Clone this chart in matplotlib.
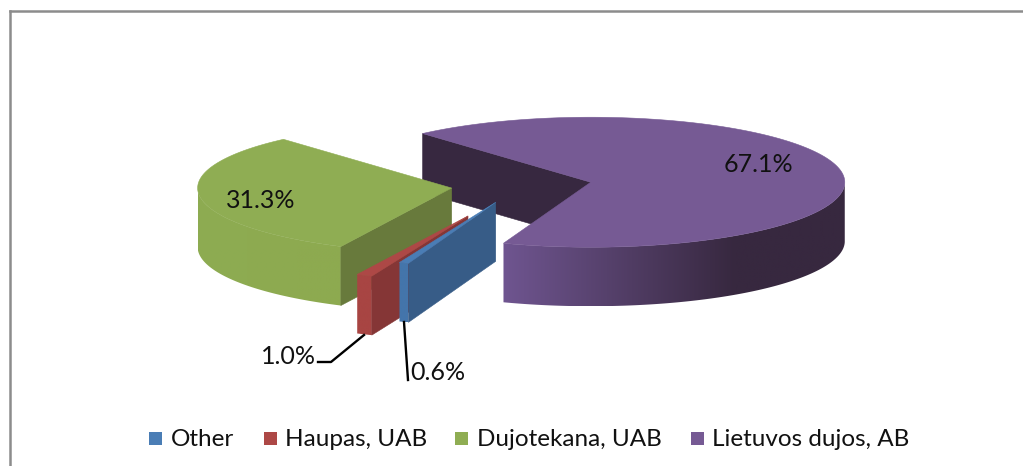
import numpy as np
import matplotlib
matplotlib.use("Agg")
import matplotlib.pyplot as plt
from matplotlib.patches import Polygon, Rectangle
from matplotlib.colors import to_rgb

# ---- data ----
categories = ["Other", "Haupas, UAB", "Dujotekana, UAB", "Lietuvos dujos, AB"]
shares = [0.6, 1.0, 31.3, 67.1]
share_labels = ["0.6%", "1.0%", "31.3%", "67.1%"]

# ---- style ----
top_col = ["#4A7DB5", "#AD4846", "#8FAD53", "#765A94"]
side_light = ["#4475AB", "#A84543", "#8DAC52", "#6F5590"]
side_dark = ["#4475AB", "#A84543", "#8DAA50", "#37283F"]
cut_col = ["#375C87", "#853636", "#687A3C", "#372840"]
explode = [70.0, 130.0, 70.0, 71.0]

W, H = 1023, 466
CX, CY = 521.0, 185.6
A, B, D = 254.0, 65.0, 59.0
START = -110.1  # param angle where the first slice starts, running clockwise
FONT = "Lato"

fig = plt.figure(figsize=(W / 100, H / 100), dpi=100)
ax = fig.add_axes([0, 0, 1, 1])
ax.axis("off")

# frame
for xs, ys in (([9.5, 9.5], [H, 11]), ([9.5, W], [11, 11])):
    ax.plot(xs, ys, color="#8C8C8C", lw=1.8, solid_capstyle="projecting", zorder=1)

def pt(c, t, drop=0.0):
    t = np.radians(t)
    return np.column_stack([c[0] + A * np.cos(t), c[1] - B * np.sin(t) + drop])

fr = np.array(shares) / sum(shares)
edges = START - np.concatenate([[0], np.cumsum(fr)]) * 360.0
geo = []
for i in range(4):
    t0, t1 = edges[i], edges[i + 1]
    mid = np.radians((t0 + t1) / 2)
    e = explode[i]
    c = (CX + e * np.cos(mid), CY - e * B / A * np.sin(mid))
    geo.append((c, t0, t1))

def face(points, col, z):
    ax.add_patch(Polygon(points, closed=True, fc=col, ec=col, lw=0.4, zorder=z))

def outer_side(i, z):
    c, t0, t1 = geo[i]
    lo, hi = sorted((t0, t1))
    ts = np.linspace(lo, hi, 400)
    ts = ts[np.sin(np.radians(ts)) <= 0.001]
    p = pt(c, ts)
    outline = np.vstack([p, p[::-1] + [0, D]])
    x0, x1 = p[:, 0].min(), p[:, 0].max()
    l, d = np.array(to_rgb(side_light[i])), np.array(to_rgb(side_dark[i]))
    f = np.clip(np.linspace(0, 1, 256) / 0.68, 0, 1)[None, :, None]
    img = l[None, None, :] + (d - l)[None, None, :] * f
    y0, y1 = outline[:, 1].min(), outline[:, 1].max()
    im = ax.imshow(img, extent=(x0, x1, y1, y0), aspect="auto", zorder=z, interpolation="bilinear")
    clip = Polygon(outline, closed=True, transform=ax.transData)
    im.set_clip_path(clip)

def top(i, z):
    c, t0, t1 = geo[i]
    ts = np.linspace(t0, t1, 200)
    face(np.vstack([[c], pt(c, ts)]), top_col[i], z)

def cut(i, t, z):
    c = geo[i][0]
    p = pt(c, np.array([t]))[0]
    face([c, p, p + [0, D], np.array(c) + [0, D]], cut_col[i], z)

# purple (back cut face visible)
cut(3, geo[3][1], 2)
outer_side(3, 3)
top(3, 4)
# green
outer_side(2, 5)
cut(2, geo[2][1], 6)
top(2, 7)
# red
outer_side(1, 8)
cut(1, geo[1][1], 9)
top(1, 10)
# blue
outer_side(0, 11)
cut(0, geo[0][1], 12)
top(0, 13)

# labels
txt = dict(family=FONT, fontsize=18, color="#111111", zorder=20, va="center")
ax.text(724, 165, share_labels[3], ha="left", **txt)
ax.text(226, 200, share_labels[2], ha="left", **txt)
ax.text(261, 356, share_labels[1], ha="left", **txt)
ax.text(410, 373, share_labels[0], ha="left", **txt)

# leader lines
ax.plot([318, 331, 364], [362, 362, 335], color="black", lw=1.7, zorder=19)
ax.plot([404, 408], [322, 380], color="black", lw=1.7, zorder=19)

# legend
for s, tx, col, name in zip([149, 264, 455, 691], [171, 285, 477, 712], top_col, categories):
    ax.add_patch(Rectangle((s, 432), 13, 13, fc=col, ec="none", zorder=20))
    ax.text(tx, 439.5, name, ha="left", va="center", family=FONT, fontsize=17.5, color="#111111", zorder=20)

ax.set_xlim(0, W)
ax.set_ylim(H, 0)
fig.savefig("out.png", dpi=100, facecolor="white")
